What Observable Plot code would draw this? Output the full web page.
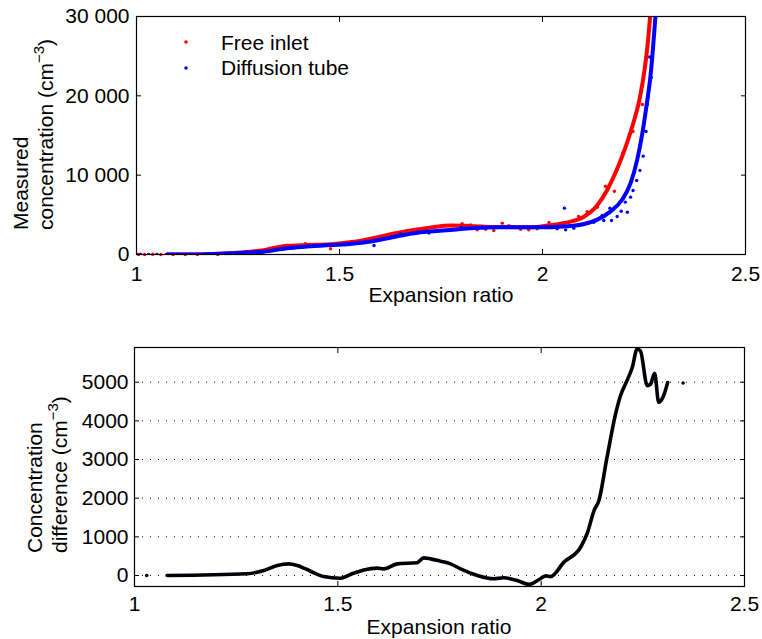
<!DOCTYPE html>
<html><head><meta charset="utf-8">
<script src="https://cdn.jsdelivr.net/npm/d3@7"></script>
<script src="https://cdn.jsdelivr.net/npm/@observablehq/plot@0.6"></script>
<style>
html,body{margin:0;padding:0;background:#fff;}
#wrap{position:relative;width:762px;height:639px;overflow:hidden;font-family:"Liberation Sans",Arial,sans-serif;}
#wrap svg{position:absolute;left:0;}
</style></head><body><div id="wrap"></div>
<script>
// ---------- DATA ----------
const xTicks = [1, 1.5, 2, 2.5];
const xTickLabels = ["1", "1.5", "2", "2.5"];
const topYTicks = [0, 10000, 20000, 30000];
const topYTickLabels = ["0", "10 000", "20 000", "30 000"];
const bottomYTicks = [0, 1000, 2000, 3000, 4000, 5000];
const bottomYTickLabels = ["0", "1000", "2000", "3000", "4000", "5000"];

const seriesNames = ["Free inlet", "Diffusion tube"];
const seriesColors = ["#ff0000", "#0000ff"];

// Free inlet: measured points
const freeDotX = [1.005,1.02,1.04,1.06,1.09,1.12,1.15,1.2,1.37,1.416,1.478,1.52,1.609,1.679,1.708,1.749,1.78,1.802,1.823,1.839,1.86,1.88,1.901,1.917,1.946,1.966,1.987,2.016,2.05,2.089,2.11,2.135,2.155,2.177,2.184,2.199,2.223,2.246];
const freeDotY = [0,0,30,0,0,0,0,0,1130,1350,720,1400,2100,3030,3240,3530,3650,3870,3740,3110,3190,3030,3950,3620,3190,3110,3240,4040,3900,4790,5380,5960,8610,7980,10700,12900,15500,18900];
// Free inlet: fitted curve
const freeFitX = [1.075,1.15,1.23,1.28,1.313,1.345,1.371,1.42,1.478,1.52,1.56,1.6,1.642,1.69,1.73,1.773,1.82,1.88,1.94,1.98,2.02,2.061,2.102,2.135,2.159,2.184,2.205,2.225,2.24,2.252,2.26,2.266];
const freeFitY = [0,10,150,350,550,900,1100,1200,1300,1500,1800,2250,2700,3150,3450,3650,3600,3480,3450,3450,3700,4050,4750,6200,8100,10800,13600,16800,19800,23500,27000,30600];

// Diffusion tube: measured points
const tubeDotX = [1,1.01,1.03,1.05,1.08,1.1,1.13,1.17,1.548,1.585,1.65,1.72,1.8,1.85,1.93,1.99,2.02,2.036,2.054,2.057,2.077,2.102,2.126,2.147,2.151,2.166,2.17,2.184,2.194,2.204,2.209,2.217,2.223,2.232,2.24,2.248,2.255,2.258,2.26,2.268,2.264];
const tubeDotY = [0,0,0,0,0,0,0,0,1550,1130,2600,2700,3400,3450,3400,3500,3400,3240,5840,3110,3320,3780,4070,4920,4290,5840,4290,4790,5460,6600,5330,7230,8070,9330,10600,12400,15500,18900,19800,22300,24900];
// Diffusion tube: fitted curve
const tubeFitX = [1.075,1.15,1.23,1.313,1.371,1.42,1.478,1.52,1.56,1.6,1.642,1.7,1.773,1.83,1.9,1.96,2.02,2.061,2.102,2.135,2.167,2.196,2.217,2.233,2.246,2.258,2.266,2.279];
const tubeFitY = [0,0,150,350,800,1000,1200,1300,1500,1850,2300,2800,3100,3350,3450,3450,3450,3550,3850,4400,5400,6900,9000,11900,15300,19400,22500,30600];

// Concentration difference
const diffX = [1.08,1.277,1.318,1.351,1.379,1.4,1.433,1.465,1.506,1.531,1.564,1.597,1.613,1.646,1.695,1.711,1.728,1.752,1.777,1.802,1.843,1.883,1.908,1.941,1.97,1.994,2.011,2.023,2.056,2.097,2.113,2.13,2.142,2.162,2.183,2.195,2.211,2.224,2.236,2.244,2.261,2.269,2.279,2.289,2.301,2.311];
const diffY = [0,44,130,260,300,260,110,-26,-70,26,145,190,170,300,330,455,430,370,300,170,0,-86,-60,-130,-230,-110,-10,-30,345,730,1080,1680,1940,3060,4180,4650,5040,5380,5860,5810,4910,4950,5230,4480,4650,4990];
const diffDotX = [1.03, 2.349];
const diffDotY = [0, 4980];

// ---------- BUILD ----------
const rows = (xs, ys) => xs.map((x, i) => ({x, y: ys[i]}));
const FONT = '"Liberation Sans", Arial, sans-serif';
const plotStyle = {fontSize: "21px", fontFamily: FONT, background: "transparent", overflow: "visible", color: "black"};
const fmt = (ticks, labels) => { const m = new Map(ticks.map((t, i) => [t, labels[i]])); return d => m.get(d); };
const blank = () => "";

const wrap = document.getElementById("wrap");

const topSvg = Plot.plot({
  width: 762, height: 315,
  marginTop: 16, marginBottom: 61, marginLeft: 136, marginRight: 17,
  x: {domain: [1, 2.5], label: null},
  y: {domain: [0, 30000], label: null},
  style: plotStyle,
  marks: [
    Plot.axisX(xTicks, {anchor: "bottom", tickSize: 0, tickPadding: 12, tickFormat: fmt(xTicks, xTickLabels), label: null}),
    Plot.axisX(xTicks, {anchor: "bottom", tickSize: -5, tickFormat: blank, label: null}),
    Plot.axisX(xTicks, {anchor: "top", tickSize: -5, tickFormat: blank, label: null}),
    Plot.axisY(topYTicks, {anchor: "left", tickSize: 0, tickPadding: 7, tickFormat: fmt(topYTicks, topYTickLabels), label: null}),
    Plot.axisY(topYTicks, {anchor: "left", tickSize: -5, tickFormat: blank, label: null}),
    Plot.axisY(topYTicks, {anchor: "right", tickSize: -5, tickFormat: blank, label: null}),
    Plot.dot(rows(freeDotX, freeDotY), {x: "x", y: "y", r: 1.7, fill: seriesColors[0], stroke: null}),
    Plot.line(rows(freeFitX, freeFitY), {x: "x", y: "y", stroke: seriesColors[0], strokeWidth: 4, curve: "monotone-x", clip: true}),
    Plot.dot(rows(tubeDotX, tubeDotY), {x: "x", y: "y", r: 1.7, fill: seriesColors[1], stroke: null, clip: true}),
    Plot.line(rows(tubeFitX, tubeFitY), {x: "x", y: "y", stroke: seriesColors[1], strokeWidth: 4, curve: "monotone-x", clip: true}),
    Plot.frame({stroke: "black", strokeWidth: 1.2})
  ]
});
topSvg.style.top = "0px";
wrap.appendChild(topSvg);

const bottomSvg = Plot.plot({
  width: 762, height: 324,
  marginTop: 32, marginBottom: 53, marginLeft: 134, marginRight: 18,
  x: {domain: [1, 2.5], label: null},
  y: {domain: [-285, 5898], label: null},
  style: plotStyle,
  marks: [
    Plot.gridY(bottomYTicks, {stroke: "black", strokeOpacity: 1, strokeWidth: 1, strokeDasharray: "1,7"}),
    Plot.axisX(xTicks, {anchor: "bottom", tickSize: 0, tickPadding: 10, tickFormat: fmt(xTicks, xTickLabels), label: null}),
    Plot.axisX(xTicks, {anchor: "bottom", tickSize: -5, tickFormat: blank, label: null}),
    Plot.axisX(xTicks, {anchor: "top", tickSize: -5, tickFormat: blank, label: null}),
    Plot.axisY(bottomYTicks, {anchor: "left", tickSize: 0, tickPadding: 6, tickFormat: fmt(bottomYTicks, bottomYTickLabels), label: null}),
    Plot.axisY(bottomYTicks, {anchor: "left", tickSize: -5, tickFormat: blank, label: null}),
    Plot.axisY(bottomYTicks, {anchor: "right", tickSize: -5, tickFormat: blank, label: null}),
    Plot.line(rows(diffX, diffY), {x: "x", y: "y", stroke: "#000008", strokeWidth: 3.6, curve: "monotone-x"}),
    Plot.dot(rows(diffDotX, diffDotY), {x: "x", y: "y", r: 1.8, fill: "#000008", stroke: null}),
    Plot.frame({stroke: "black", strokeWidth: 1.2})
  ]
});
bottomSvg.style.top = "315px";
wrap.appendChild(bottomSvg);

// ---------- TEXT LABELS ----------
function yLabel(svg, line1, line2pre, b1, b2, yStart) {
  const s = d3.select(svg);
  s.append("text").attr("transform", `translate(${b1},${yStart}) rotate(-90)`).attr("text-anchor", "start")
    .attr("font-family", FONT).attr("font-size", 21).attr("fill", "black").text(line1);
  const t = s.append("text").attr("transform", `translate(${b2},${yStart}) rotate(-90)`).attr("text-anchor", "start")
    .attr("font-family", FONT).attr("font-size", 21).attr("fill", "black");
  t.append("tspan").text(line2pre + " (cm");
  t.append("tspan").attr("dy", -9).attr("font-size", 15).text("\u22123");
  t.append("tspan").attr("dy", 9).text(")");
}
function xLabel(svg, text, cx, baseline) {
  d3.select(svg).append("text").attr("x", cx).attr("y", baseline).attr("text-anchor", "middle")
    .attr("font-family", FONT).attr("font-size", 21).attr("fill", "black").text(text);
}
yLabel(topSvg, "Measured", "concentration", 28, 53, 230);
yLabel(bottomSvg, "Concentration", "difference", 42, 67, 553 - 315);
xLabel(topSvg, "Expansion ratio", 441, 302);
xLabel(bottomSvg, "Expansion ratio", 439, 319);

// legend
const lg = d3.select(topSvg).append("g");
seriesNames.forEach((name, i) => {
  lg.append("circle").attr("cx", 186).attr("cy", 42 + 26 * i).attr("r", 1.8).attr("fill", seriesColors[i]);
  lg.append("text").attr("x", 221).attr("y", 50 + 25 * i).attr("text-anchor", "start").attr("font-family", FONT).attr("font-size", 21)
    .attr("fill", "black").text(name);
});
</script></body></html>
